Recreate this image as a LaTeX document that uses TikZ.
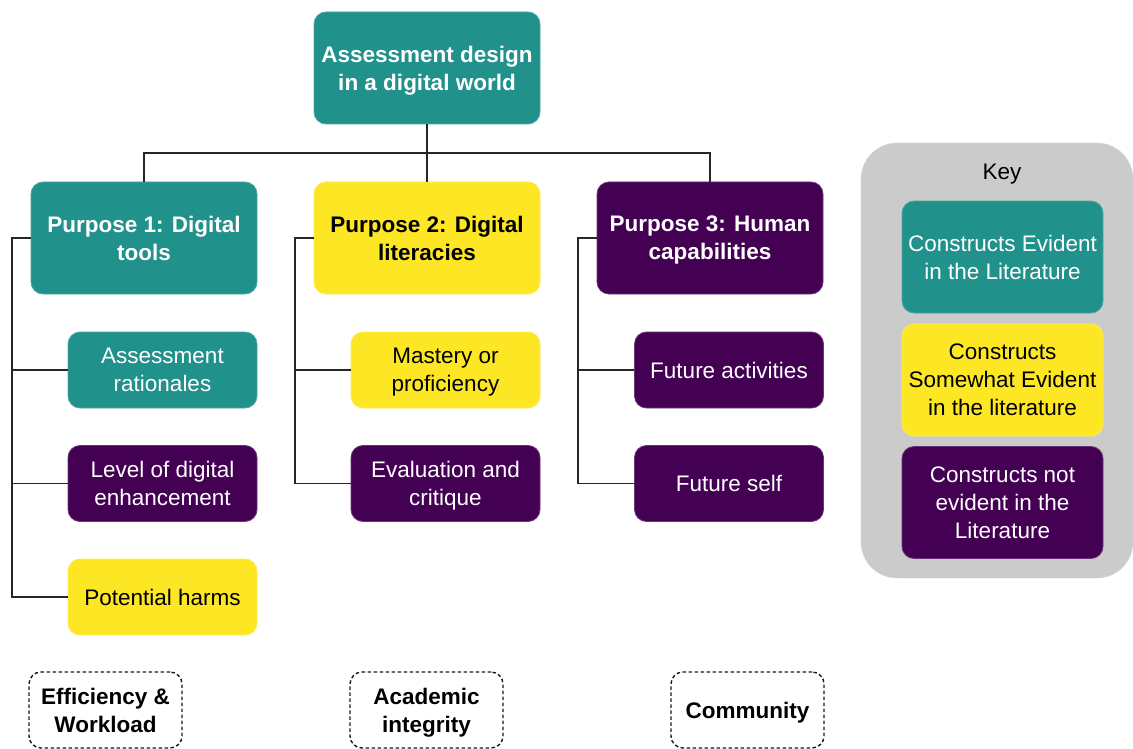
\documentclass[tikz,border=0pt]{standalone}
\usepackage{fontspec}
\setmainfont{Liberation Sans}
\definecolor{vteal}{HTML}{21918C}
\definecolor{vyellow}{HTML}{FDE725}
\definecolor{vpurple}{HTML}{440154}
\definecolor{keygray}{HTML}{CBCBCB}
\begin{document}
\begin{tikzpicture}[x=1pt,y=-1pt,
  txt/.style={font=\fontsize{22.5}{28}\selectfont, align=center, inner sep=0pt, text depth=0pt},
  box/.style={txt, rounded corners=12pt, line width=0.8pt},
  bigbox/.style={box, minimum width=226pt, minimum height=112pt},
  smallbox/.style={box, minimum width=189pt, minimum height=76pt},
  keybox/.style={box, minimum width=201pt, minimum height=112pt},
  teal/.style={fill=vteal, draw=vteal!80!white, text=white},
  yellow/.style={fill=vyellow, draw=vyellow!80!white, text=black},
  purple/.style={fill=vpurple, draw=vpurple!80!white, text=white},
  heading/.style={font=\fontsize{22.5}{28}\selectfont\bfseries},
  theme/.style={txt, draw=black!90, dashed, dash pattern=on 3.5pt off 2.5pt, line width=1.4pt,
    rounded corners=12pt, minimum width=153pt, minimum height=76pt, font=\fontsize{22.5}{28}\selectfont\bfseries},
  link/.style={draw=black!85, line width=1.5pt}]
\useasboundingbox (0,0) rectangle (1133,749);

% key panel
\node[fill=keygray, draw=black!15, rounded corners=36pt, minimum width=272pt, minimum height=435pt, inner sep=0pt] (keypanel) at (997,360.5) {};
\node[txt] (keytitle) at (1002,172) {Key};
\node[keybox, teal] (k1) at (1002.5,257) {Constructs Evident\\in the Literature};
\node[keybox, yellow] (k2) at (1002.5,380) {Constructs\\Somewhat Evident\\in the literature};
\node[keybox, purple] (k3) at (1002.5,502.5) {Constructs not\\evident in the\\Literature};

% root and the three purposes
\node[bigbox, teal, heading] (root) at (427,68) {Assessment design\\in a digital world};
\node[bigbox, teal, heading] (p1) at (144,238) {Purpose 1: Digital\\tools};
\node[bigbox, yellow, heading] (p2) at (427,238) {Purpose 2: Digital\\literacies};
\node[bigbox, purple, heading] (p3) at (710,238) {Purpose 3: Human\\capabilities};

% constructs under each purpose
\node[smallbox, teal] (c11) at (162.5,370) {Assessment\\rationales};
\node[smallbox, purple] (c12) at (162.5,483.5) {Level of digital\\enhancement};
\node[smallbox, yellow] (c13) at (162.5,597) {Potential harms};
\node[smallbox, yellow] (c21) at (445.5,370) {Mastery or\\proficiency};
\node[smallbox, purple] (c22) at (445.5,483.5) {Evaluation and\\critique};
\node[smallbox, purple] (c31) at (729,370) {Future activities};
\node[smallbox, purple] (c32) at (729,483.5) {Future self};

% cross-cutting themes
\node[theme] (t1) at (105.5,710) {Efficiency \&\\Workload};
\node[theme] (t2) at (426.5,710) {Academic\\integrity};
\node[theme] (t3) at (747.5,710) {Community};

% tree connectors
\coordinate (bar) at (427,153);
\draw[link] (root.south) -- (p2.north);
\draw[link] (p1.north) |- (bar) -| (p3.north);

\coordinate (s1) at (12,238);
\coordinate (s2) at (295,238);
\coordinate (s3) at (578,238);
\draw[link] (p1.west) -- (s1) |- (c13.west);
\draw[link] (s1 |- c11.west) -- (c11.west);
\draw[link] (s1 |- c12.west) -- (c12.west);
\draw[link] (p2.west) -- (s2) |- (c22.west);
\draw[link] (s2 |- c21.west) -- (c21.west);
\draw[link] (p3.west) -- (s3) |- (c32.west);
\draw[link] (s3 |- c31.west) -- (c31.west);
\end{tikzpicture}
\end{document}
